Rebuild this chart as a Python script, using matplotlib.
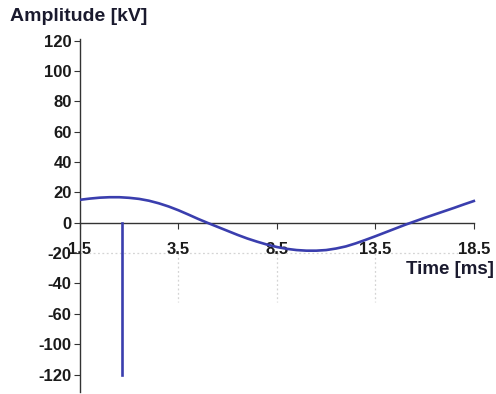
import matplotlib.pyplot as plt

plt.rcParams['font.family'] = ['Liberation Sans', 'DejaVu Sans']

# waveform
time_ms = [-1.5, -1.0, -0.5, 0.0, 0.5, 1.0, 1.5, 2.0, 2.5, 3.0, 3.5, 4.0, 4.5, 5.0,
           5.5, 6.0, 6.5, 7.0, 7.5, 8.0, 8.5, 9.0, 9.5, 10.0, 10.5, 11.0, 11.5,
           12.0, 12.5, 13.0, 13.5, 14.0, 14.5, 15.0, 15.5, 16.0, 16.5, 17.0, 17.5,
           18.0, 18.5]
amp_kv = [15.1, 15.9, 16.5, 16.8, 16.8, 16.4, 15.7, 14.5, 12.8, 10.7, 8.2, 5.4, 2.5, -0.2,
          -2.8, -5.4, -8.0, -10.4, -12.5, -14.4, -16.0, -17.2, -18.0, -18.4, -18.4, -18.0, -17.0,
          -15.6, -13.6, -11.3, -8.9, -6.4, -3.9, -1.4, 0.9, 3.2, 5.4, 7.6, 9.8,
          12.1, 14.3]

# spike
spike_t = [0.65, 0.65]
spike_v = [0, -100]

xticks = [-1.5, 3.5, 8.5, 13.5, 18.5]
xticklabels = ['1.5', '3.5', '8.5', '13.5', '18.5']
yticks = [120, 100, 80, 60, 40, 20, 0, -20, -40, -60, -80, -100]
yticklabels = ['120', '100', '80', '60', '40', '20', '0', '-20', '-40', '-60', '-100', '-120']

fig = plt.figure(figsize=(4.96, 3.94), dpi=100)
ax = fig.add_axes([0.1613, 0.005, 0.798, 0.896])

blue = '#3a3eae'
grid = '#d4d4d4'

# faint dotted guides
ax.axhline(-20, color=grid, lw=0.9, ls=(0, (1.5, 2)), zorder=0)
for xv in xticks[1:4]:
    ax.plot([xv, xv], [-20, -52], color=grid, lw=0.9, ls=(0, (1.5, 2)), zorder=0)

ax.plot(time_ms, amp_kv, color=blue, lw=1.9, zorder=5)
ax.plot(spike_t, spike_v, color=blue, lw=1.9, zorder=5)

ax.set_xlim(-1.5, 18.6)
ax.set_ylim(-111.5, 121)

ax.spines['top'].set_visible(False)
ax.spines['right'].set_visible(False)
ax.spines['bottom'].set_position(('data', 0))
ax.spines['bottom'].set_bounds(-1.5, 18.5)
ax.spines['left'].set_color('#333333')
ax.spines['bottom'].set_color('#333333')
ax.spines['left'].set_linewidth(1.0)
ax.spines['bottom'].set_linewidth(1.0)

ax.set_xticks(xticks)
ax.set_xticklabels(xticklabels)
ax.set_yticks(yticks)
ax.set_yticklabels(yticklabels)
ax.tick_params(axis='x', length=4, pad=10, labelsize=12, colors='#333333', labelcolor='#1a1a1a')
ax.tick_params(axis='y', length=4, pad=2, labelsize=12, colors='#333333', labelcolor='#1a1a1a')
for lab in ax.get_xticklabels() + ax.get_yticklabels():
    lab.set_fontweight('bold')

fig.text(0.02, 0.957, 'Amplitude [kV]', fontsize=14, fontweight='bold', color='#1a1a2e', va='center', ha='left')
fig.text(0.995, 0.315, 'Time [ms]', fontsize=13.5, fontweight='bold', color='#1a1a2e', va='center', ha='right')

fig.savefig('out.png', dpi=100)
